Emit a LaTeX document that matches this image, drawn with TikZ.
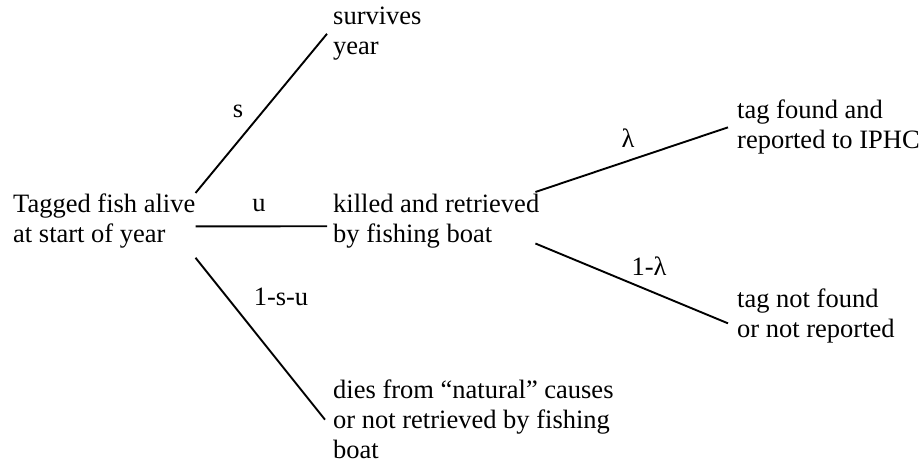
\documentclass[tikz,border=0pt]{standalone}
\usepackage{fontspec}
\setmainfont{Liberation Serif}
\usepackage{tikz}

\begin{document}
\begin{tikzpicture}[x=1pt,y=-1pt]
    \tikzset{
    txt/.style={anchor=north west,inner sep=0pt,align=left,font=\fontsize{26.5}{30}\selectfont},
    lab/.style={anchor=base,inner sep=0pt,font=\fontsize{26.5}{30}\selectfont},
    c1/.style={-,line width=1.9pt},
    }
    \useasboundingbox (0,0) rectangle (922,465);

    \node[txt] (start) at (13,194) {Tagged fish alive\\at start of year};
    \node[txt] (surv) at (333,7) {survives\\year};
    \node[txt] (kill) at (333,194) {killed and retrieved\\by fishing boat};
    \node[txt] (dies) at (333,380) {dies from “natural” causes\\or not retrieved by fishing\\boat};
    \node[txt] (found) at (737,100) {tag found and\\reported to IPHC};
    \node[txt] (notf) at (737,289) {tag not found\\or not reported};

    \node[lab] (ls) at (238,118) {s};
    \node[lab] (lu) at (259,212) {u};
    \node[lab] (lsu) at (281,306) {1-s-u};
    \node[lab] (ll) at (628,148) {λ};
    \node[lab] (lnl) at (649,276) {1-λ};

    \draw[c1] ([shift={(0,-1)}]start.north east) -- ([shift={(-6,0)}]surv.west);
    \draw[c1] ([shift={(0,5)}]start.east) -- ([shift={(-6,5)}]kill.west);
    \draw[c1] ([shift={(0,9)}]start.south east) -- ([shift={(-8,0)}]dies.west);
    \draw[c1] ([shift={(-4,-2)}]kill.north east) -- ([shift={(-9,0)}]found.west);
    \draw[c1] ([shift={(-4,-5)}]kill.south east) -- ([shift={(-9,7)}]notf.west);
\end{tikzpicture}
\end{document}
